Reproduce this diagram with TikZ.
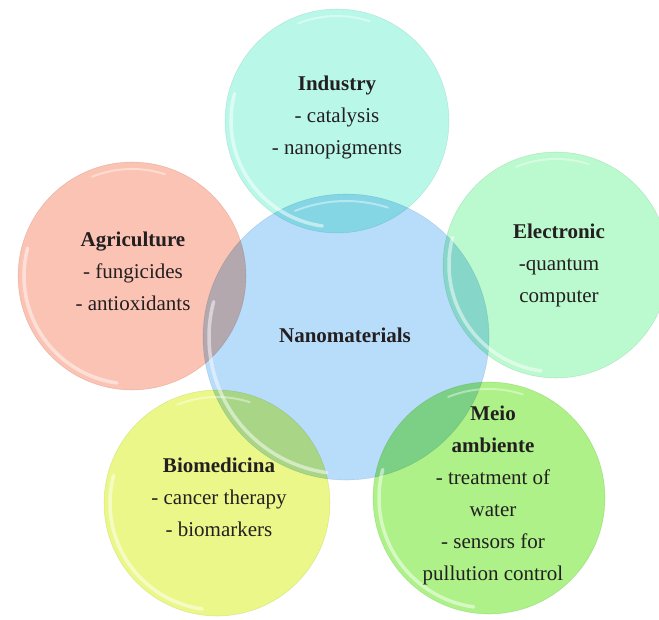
\documentclass[tikz,border=0pt]{standalone}
\usepackage{fontspec}
\setmainfont{Liberation Serif}
\usetikzlibrary{calc}

\definecolor{cnano}{RGB}{166,212,250}
\definecolor{cind}{RGB}{168,246,228}
\definecolor{cagri}{RGB}{250,180,160}
\definecolor{celec}{RGB}{170,248,194}
\definecolor{cbio}{RGB}{230,246,108}
\definecolor{cmeio}{RGB}{152,238,106}
\definecolor{ink}{RGB}{35,31,32}

\begin{document}
\begin{tikzpicture}[x=1pt,y=1pt,
  bubble/.style={circle, inner sep=0pt, draw=#1!75!black, draw opacity=0.25,
                 line width=0.6pt, fill=#1, fill opacity=0.8},
  gloss/.style={white, line width=3.5pt, draw opacity=0.5, line cap=round},
  glint/.style={white, line width=2pt, draw opacity=0.4, line cap=round},
  txt/.style={align=center, text=ink, inner sep=0pt,
              font=\fontsize{21}{32}\selectfont}]
\useasboundingbox (0,0) rectangle (659,-619);

% coloured discs, overlapping areas darken like stacked films
\begin{scope}[blend mode=multiply]
  \node[bubble=cnano, minimum size=286pt] (nano) at (346,-337) {};
  \node[bubble=cind,  minimum size=224pt] (ind)  at (337,-121) {};
  \node[bubble=cagri, minimum size=228pt] (agri) at (132,-276) {};
  \node[bubble=celec, minimum size=226pt] (elec) at (556,-265) {};
  \node[bubble=cbio,  minimum size=226pt] (bio)  at (217,-503) {};
  \node[bubble=cmeio, minimum size=232pt] (meio) at (489,-498) {};
\end{scope}

% glossy rims on each disc
\foreach \n/\r in {nano/143,ind/112,agri/114,elec/113,bio/113,meio/116}{
  \pgfmathsetmacro{\ra}{\r-6}
  \pgfmathsetmacro{\rb}{\r-7}
  \draw[gloss] ($(\n.center)+(165:\ra)$) arc[start angle=165, end angle=262, radius=\ra];
  \draw[glint] ($(\n.center)+(72:\rb)$) arc[start angle=72, end angle=112, radius=\rb];
}

% labels
\node[txt] (indtxt)  at (337,-117) {\textbf{Industry}\\- catalysis\\- nanopigments};
\node[txt] (agritxt) at (133,-271) {\textbf{Agriculture}\\- fungicides\\- antioxidants};
\node[txt] (electxt) at (559,-265) {\textbf{Electronic}\\-quantum\\computer};
\node[txt] (nanotxt) at (345,-335) {\textbf{Nanomaterials}};
\node[txt] (biotxt)  at (219,-497) {\textbf{Biomedicina}\\- cancer therapy\\- biomarkers};
\node[txt] (meiotxt) at (493,-495) {\textbf{Meio}\\\textbf{ambiente}\\- treatment of\\water\\- sensors for\\pullution control};
\end{tikzpicture}
\end{document}
